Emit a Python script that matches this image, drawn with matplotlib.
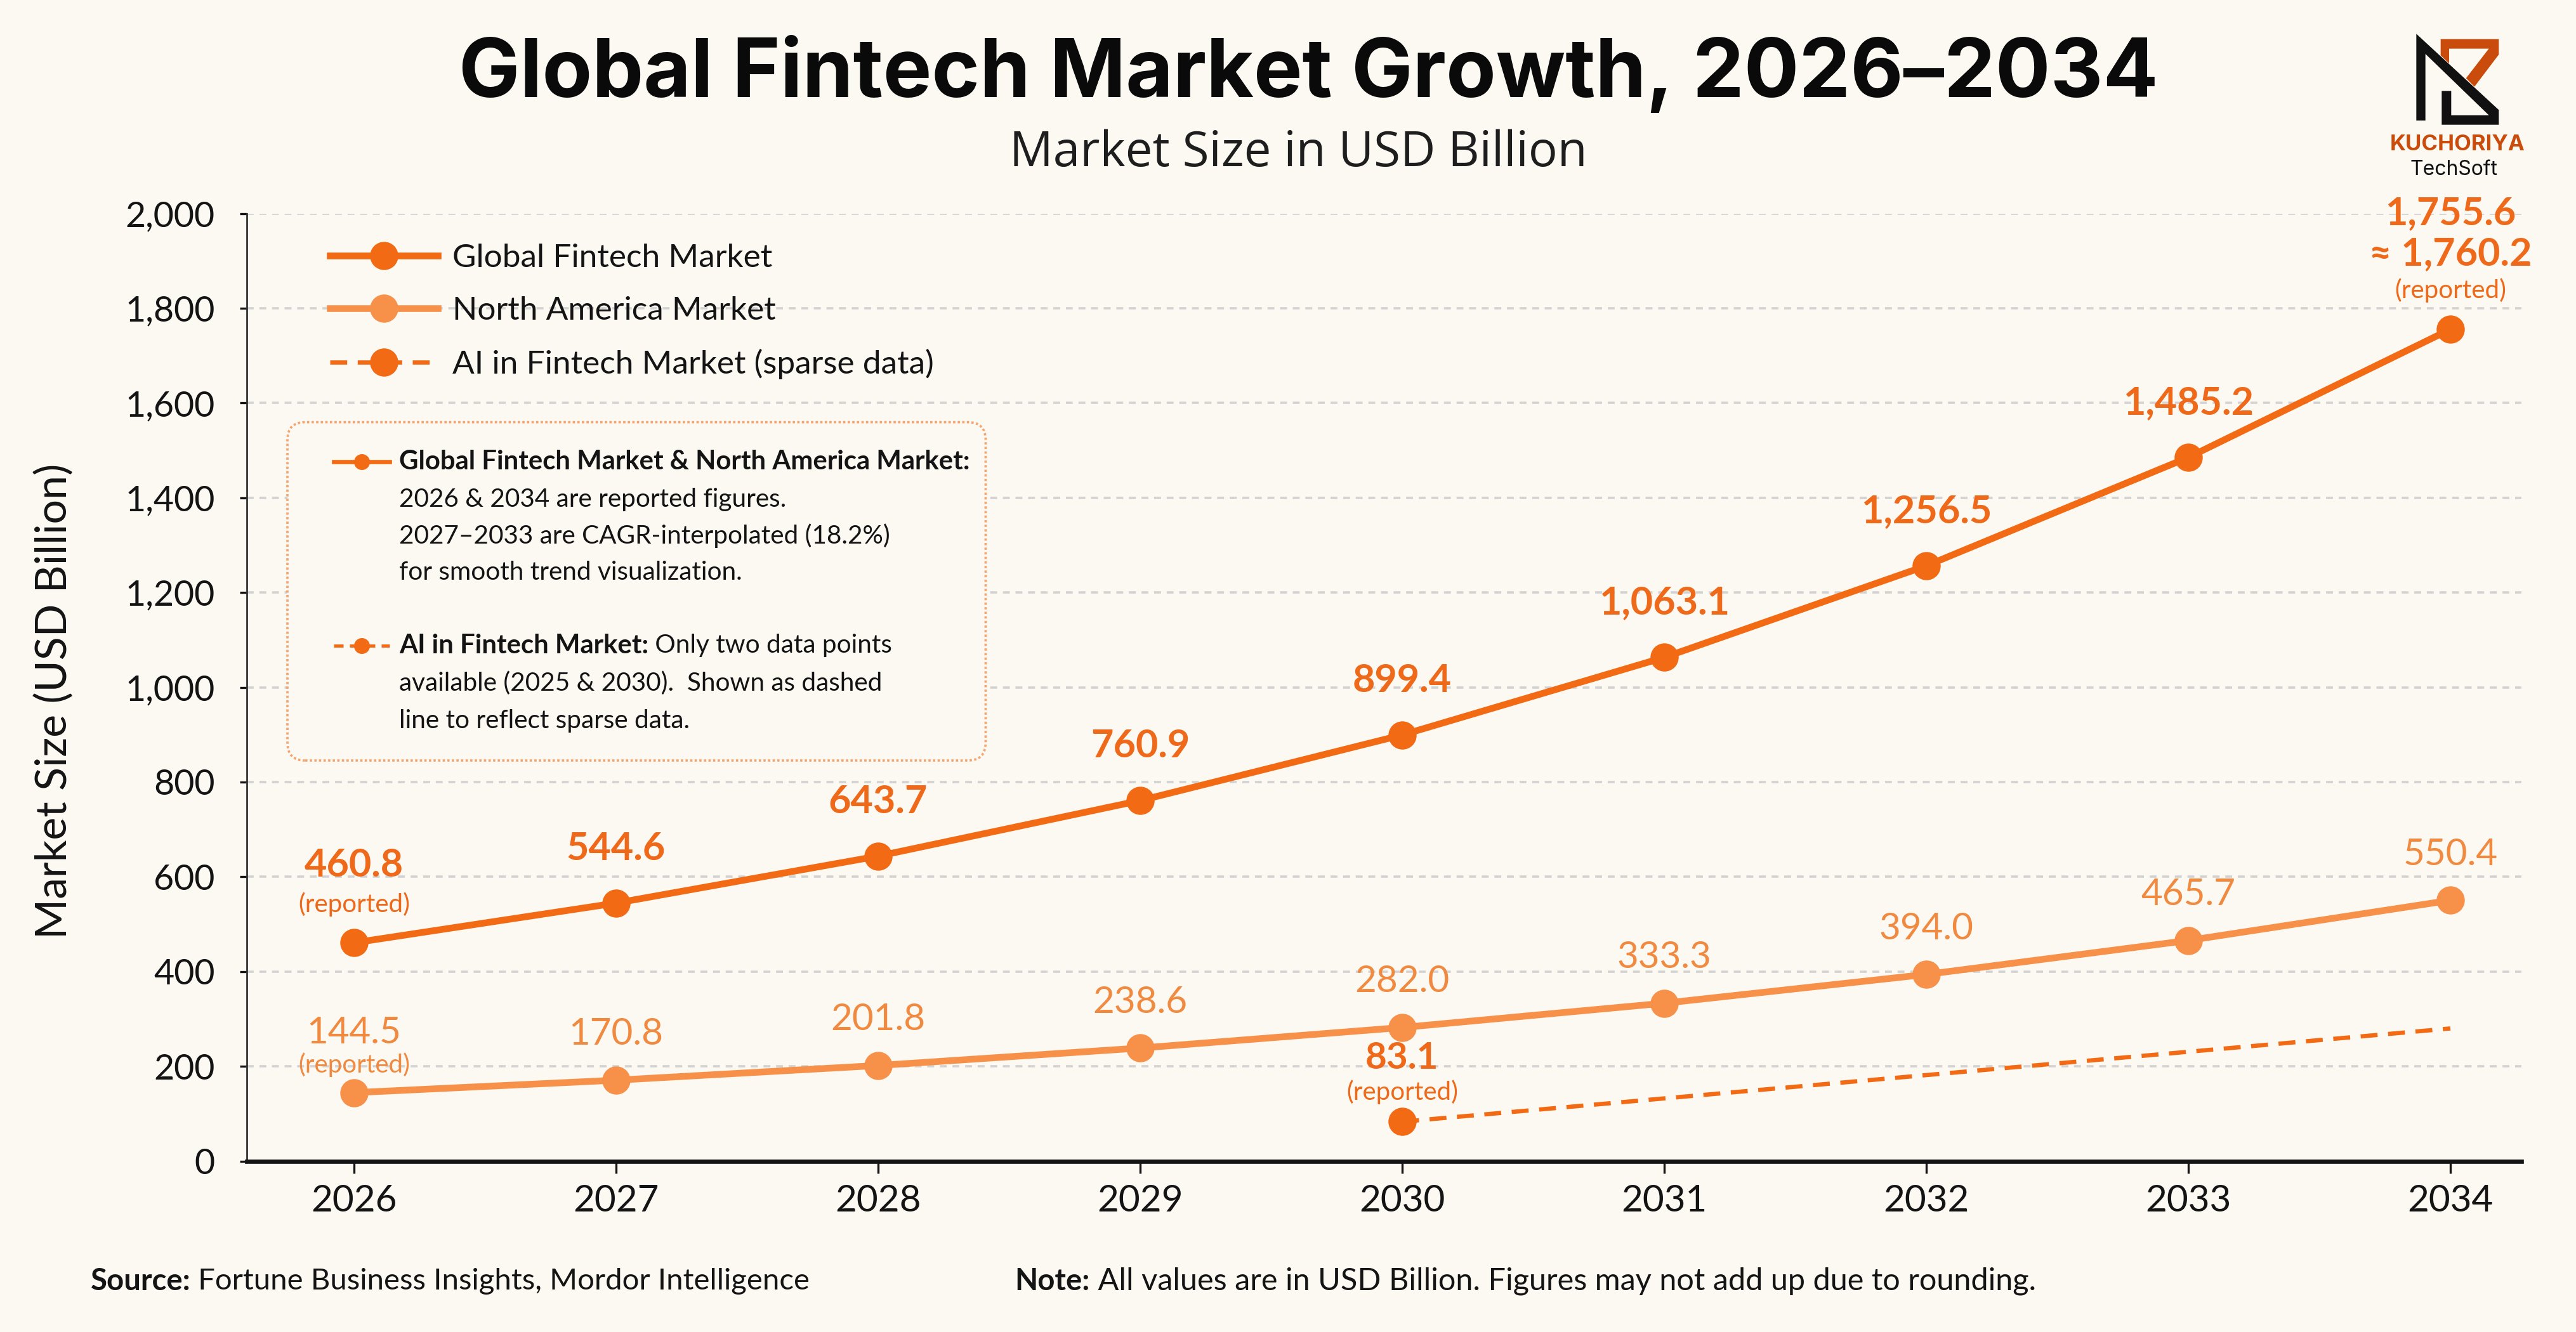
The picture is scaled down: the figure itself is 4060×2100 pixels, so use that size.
import matplotlib.pyplot as plt
from matplotlib.patches import FancyBboxPatch, Polygon
from matplotlib.lines import Line2D
from matplotlib.text import Annotation

# =============================================================================
# Data
# =============================================================================
years = [2026, 2027, 2028, 2029, 2030, 2031, 2032, 2033, 2034]
global_mkt = [460.8, 544.6, 643.7, 760.9, 899.4, 1063.1, 1256.5, 1485.2, 1755.6]
na_mkt = [144.5, 170.8, 201.8, 238.6, 282.0, 333.3, 394.0, 465.7, 550.4]
ai_years = [2030, 2034]
ai_mkt = [83.1, 280.0]
y_ticks = [0, 200, 400, 600, 800, 1000, 1200, 1400, 1600, 1800, 2000]

# =============================================================================
# Style
# =============================================================================
BG = "#FCF8F2"
C_GLOBAL = "#F26A14"
C_NA = "#F7914A"
C_GLOBAL_TXT = "#EE6A1A"
C_NA_TXT = "#F08A40"
DARK = "#141414"
FONT = "Lato"

plt.rcParams["font.family"] = [FONT, "DejaVu Sans"]

fig = plt.figure(figsize=(20.3, 10.5), dpi=200, facecolor=BG)
ax = fig.add_axes([0.0957, 0.1283, 0.883, 0.7114])
ax.set_facecolor(BG)

# lines
ax.plot(years, global_mkt, color=C_GLOBAL, lw=3.8, marker="o", ms=15,
        label="Global Fintech Market", zorder=4)
ax.plot(years, na_mkt, color=C_NA, lw=3.8, marker="o", ms=15,
        label="North America Market", zorder=4)
ax.plot(ai_years, ai_mkt, color=C_GLOBAL, lw=2.4, ls=(0, (4, 2.5)),
        marker="o", ms=15, markevery=[0], label="AI in Fintech Market (sparse data)",
        zorder=4)


def lab(x, v, txt, dy, size, color, bold=False):
    ax.annotate(txt, (x, v), xytext=(0, dy), textcoords="offset points",
                ha="center", va="center", fontsize=size, color=color,
                fontweight="bold" if bold else "normal", zorder=5)


# data labels
for i, (x, v) in enumerate(zip(years, global_mkt)):
    if i == 0:
        lab(x, v, f"{v:,.1f}", 44, 22, C_GLOBAL_TXT, True)
        lab(x, v, "(reported)", 22, 14.5, C_GLOBAL_TXT)
    elif i == len(years) - 1:
        lab(x, v, f"{v:,.1f}", 66, 22, C_GLOBAL_TXT, True)
        lab(x, v, "≈ 1,760.2", 43, 22, C_GLOBAL_TXT, True)
        lab(x, v, "(reported)", 22, 14.5, C_GLOBAL_TXT)
    else:
        lab(x, v, f"{v:,.1f}", 31, 22, C_GLOBAL_TXT, True)

for i, (x, v) in enumerate(zip(years, na_mkt)):
    if i == 0:
        lab(x, v, f"{v:,.1f}", 34, 21, C_NA_TXT)
        lab(x, v, "(reported)", 16, 14.5, C_NA_TXT)
    else:
        lab(x, v, f"{v:,.1f}", 26, 21, C_NA_TXT)

lab(ai_years[0], ai_mkt[0], f"{ai_mkt[0]:,.1f}", 36, 21, C_GLOBAL_TXT, True)
lab(ai_years[0], ai_mkt[0], "(reported)", 17, 14.5, C_GLOBAL_TXT)

# axes
ax.set_xlim(2025.59, 2034.27)
ax.set_ylim(0, 2000)
ax.set_xticks(years)
ax.set_xticklabels([str(y) for y in years], fontsize=21, color=DARK)
ax.set_yticks(y_ticks)
ax.set_yticklabels([f"{t:,}" for t in y_ticks], fontsize=20, color=DARK)
ax.tick_params(axis="x", length=7, width=1.2, color=DARK, pad=6)
ax.tick_params(axis="y", length=4, width=1.2, color=DARK, pad=14)
ax.grid(axis="y", color="#D2D2D2", ls=(0, (3, 2.5)), lw=1.3)
ax.set_axisbelow(True)
for s in ["top", "right"]:
    ax.spines[s].set_visible(False)
ax.spines["bottom"].set_linewidth(2.4)
ax.spines["bottom"].set_color(DARK)
ax.spines["left"].set_linewidth(1.0)
ax.spines["left"].set_color("#333333")

leg = ax.legend(loc="upper left", bbox_to_anchor=(0.031, 0.982), frameon=False,
                fontsize=18.5, handlelength=3.3, handletextpad=0.45,
                labelspacing=0.72, borderaxespad=0)
for t in leg.get_texts():
    t.set_color(DARK)

# y label, title
fig.text(0.021, 0.4735, "Market Size (USD Billion)", rotation=90, ha="center",
         va="center", fontsize=24.5, color=DARK)
fig.text(0.508, 0.944, "Global Fintech Market Growth, 2026–2034", ha="center",
         va="center", fontsize=46.3, fontweight="bold", color="#0A0A0A",
         family=["Inter", "DejaVu Sans"])
fig.text(0.504, 0.885, "Market Size in USD Billion", ha="center", va="center",
         fontsize=27.5, color="#1E1E1E", family=["Open Sans", "DejaVu Sans"])

# note box
box = FancyBboxPatch((2.265, 4.505), 7.767 - 2.265, 7.172 - 4.505,
                     boxstyle="round,pad=0,rounding_size=0.14",
                     transform=fig.dpi_scale_trans, facecolor=BG,
                     edgecolor="#F4A46C", lw=1.3, ls=(0, (1, 1)), zorder=5)
fig.add_artist(box)

lx0, lx1, lxm = 203 / 1568, 237 / 1568, 220 / 1568
row1 = 1 - 281 / 811
row2 = 1 - 393 / 811
fig.add_artist(Line2D([lx0, lx1], [row1, row1], transform=fig.transFigure,
                      color=C_GLOBAL, lw=2.4, zorder=6))
fig.add_artist(Line2D([lxm], [row1], transform=fig.transFigure, marker="o",
                      ms=8, color=C_GLOBAL, zorder=6))
fig.add_artist(Line2D([lx0, lx1], [row2, row2], transform=fig.transFigure,
                      color=C_GLOBAL, lw=1.8, ls=(0, (3, 2)), zorder=6))
fig.add_artist(Line2D([lxm], [row2], transform=fig.transFigure, marker="o",
                      ms=8, color=C_GLOBAL, zorder=6))

tx = 243 / 1568
fig.text(tx, row1, "Global Fintech Market & North America Market:", ha="left",
         va="center", fontsize=15.1, fontweight="bold", color=DARK, zorder=6)
for k, line in enumerate(["2026 & 2034 are reported figures.",
                          "2027–2033 are CAGR-interpolated (18.2%)",
                          "for smooth trend visualization."]):
    fig.text(tx, 1 - (304 + 22.3 * k) / 811, line, ha="left", va="center",
             fontsize=14.6, color=DARK, zorder=6)
b2 = fig.text(tx, row2, "AI in Fintech Market:", ha="left", va="center",
              fontsize=15.1, fontweight="bold", color=DARK, zorder=6)
fig.add_artist(Annotation(" Only two data points", xy=(1, 0.5), xycoords=b2,
                          ha="left", va="center", fontsize=14.6, color=DARK,
                          zorder=6, annotation_clip=False))
for k, line in enumerate(["available (2025 & 2030).  Shown as dashed",
                          "line to reflect sparse data."]):
    fig.text(tx, 1 - (416 + 23 * k) / 811, line, ha="left", va="center",
             fontsize=14.6, color=DARK, zorder=6)

# footer
s1 = fig.text(0.0351, 0.0382, "Source:", ha="left", va="center", fontsize=17,
              fontweight="bold", color=DARK)
fig.add_artist(Annotation(" Fortune Business Insights, Mordor Intelligence",
                          xy=(1, 0.5), xycoords=s1, ha="left", va="center",
                          fontsize=17, color=DARK, annotation_clip=False))
s2 = fig.text(0.394, 0.0382, "Note:", ha="left", va="center", fontsize=17,
              fontweight="bold", color=DARK)
fig.add_artist(Annotation(
    " All values are in USD Billion. Figures may not add up due to rounding.",
    xy=(1, 0.5), xycoords=s2, ha="left", va="center", fontsize=17.5,
    color=DARK, annotation_clip=False))


# logo
def lp(pts):
    return [((3700 + zx / 3) / 4060, 1 - (zy / 3) / 2100) for zx, zy in pts]


orange = [(440, 185), (715, 185), (715, 258), (600, 410), (560, 370),
          (668, 230), (480, 230), (480, 300), (440, 262)]
black = [(325, 160), (715, 520), (715, 590), (445, 590), (445, 430), (490, 430),
         (490, 545), (668, 545), (368, 255), (368, 570), (325, 570)]
fig.add_artist(Polygon(lp(orange), closed=True, transform=fig.transFigure,
                       facecolor="#C94C0C", edgecolor="none"))
fig.add_artist(Polygon(lp(black), closed=True, transform=fig.transFigure,
                       facecolor="#111111", edgecolor="none"))
fig.text(3873 / 4060, 1 - 228 / 2100, "KUCHORIYA", ha="center", va="center",
         fontsize=12.5, fontweight="bold", color="#C94C0C",
         family=["Inter", "DejaVu Sans"])
fig.text(3868 / 4060, 1 - 268 / 2100, "TechSoft", ha="center", va="center",
         fontsize=11.5, color="#111111", family=["Inter", "DejaVu Sans"])

fig.savefig("out.png", dpi=200, facecolor=BG)
